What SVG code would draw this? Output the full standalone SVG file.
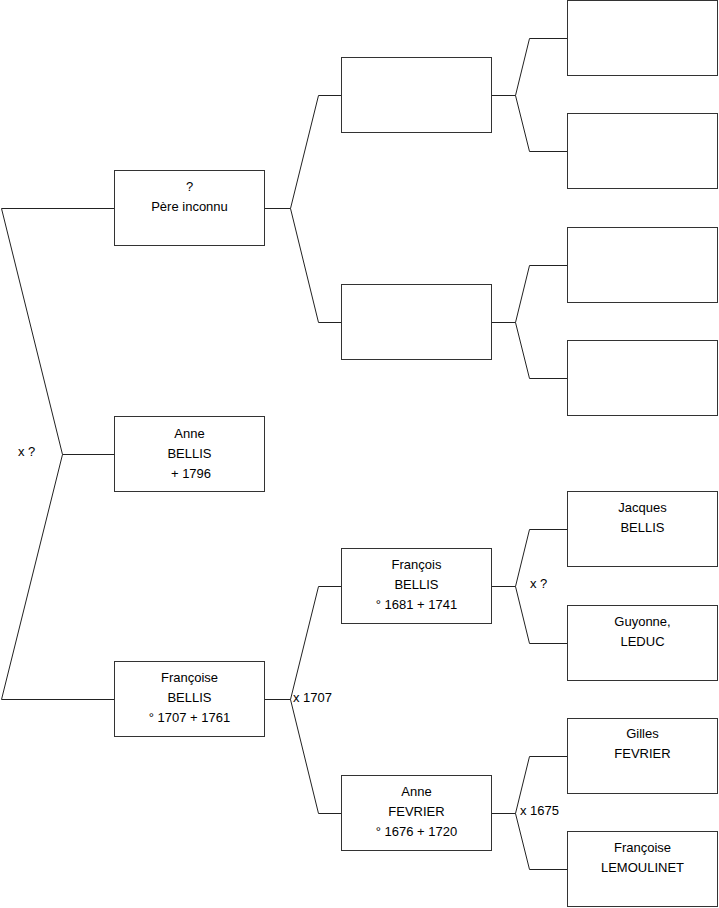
<svg xmlns="http://www.w3.org/2000/svg" width="719" height="908" viewBox="0 0 719 908">
<style>
.box{fill:#fff;stroke:#333;stroke-width:1}
.c{fill:none;stroke:#222;stroke-width:1}
text{font-family:"Liberation Sans",Arial,sans-serif;font-size:13px;fill:#000}
.m{text-anchor:middle}
</style>
<rect width="719" height="908" fill="#fff"/>
<g id="connectors">
<polyline class="c" points="114,208.5 1.5,208.5 62.5,454.5 1.5,699.5 114,699.5"/>
<line class="c" x1="62.5" y1="454.5" x2="114" y2="454.5"/>
<polyline class="c" points="341,95.5 318.5,95.5 290.5,208.5 318.5,322.5 341,322.5"/>
<line class="c" x1="265" y1="208.5" x2="290.5" y2="208.5"/>
<polyline class="c" points="341,586.5 318.5,586.5 290.5,699.5 318.5,813.5 341,813.5"/>
<line class="c" x1="265" y1="699.5" x2="290.5" y2="699.5"/>
<polyline class="c" points="567,38.5 529.5,38.5 515.5,95.5 529.5,151.5 567,151.5"/>
<line class="c" x1="492" y1="95.5" x2="515.5" y2="95.5"/>
<polyline class="c" points="567,265.5 529.5,265.5 515.5,322.5 529.5,378.5 567,378.5"/>
<line class="c" x1="492" y1="322.5" x2="515.5" y2="322.5"/>
<polyline class="c" points="567,529.5 529.5,529.5 515.5,586.5 529.5,643.5 567,643.5"/>
<line class="c" x1="492" y1="586.5" x2="515.5" y2="586.5"/>
<polyline class="c" points="567,756.5 529.5,756.5 515.5,813.5 529.5,869.5 567,869.5"/>
<line class="c" x1="492" y1="813.5" x2="515.5" y2="813.5"/>
<text x="18" y="456">x ?</text>
<text x="293" y="702">x 1707</text>
<text x="530" y="588">x ?</text>
<text x="520" y="815">x 1675</text>
</g>
<g id="pere"><rect class="box" x="114.5" y="170.5" width="150" height="75"/>
<text class="m" x="189.5" y="191">?</text><text class="m" x="189.5" y="211">Père inconnu</text></g>
<g id="anne-bellis"><rect class="box" x="114.5" y="416.5" width="150" height="75"/>
<text class="m" x="189.5" y="438">Anne</text><text class="m" x="189.5" y="458">BELLIS</text><text class="m" x="191" y="478">+ 1796</text></g>
<g id="francoise-bellis"><rect class="box" x="114.5" y="661.5" width="150" height="75"/>
<text class="m" x="189.5" y="682">Françoise</text><text class="m" x="189.5" y="702">BELLIS</text><text class="m" x="189.5" y="722">° 1707 + 1761</text></g>
<g id="g2a"><rect class="box" x="341.5" y="57.5" width="150" height="75"/></g>
<g id="g2b"><rect class="box" x="341.5" y="284.5" width="150" height="75"/></g>
<g id="francois-bellis"><rect class="box" x="341.5" y="548.5" width="150" height="75"/>
<text class="m" x="416.5" y="569">François</text><text class="m" x="416.5" y="589">BELLIS</text><text class="m" x="416.5" y="609">° 1681 + 1741</text></g>
<g id="anne-fevrier"><rect class="box" x="341.5" y="775.5" width="150" height="75"/>
<text class="m" x="416.5" y="796">Anne</text><text class="m" x="416.5" y="816">FEVRIER</text><text class="m" x="416.5" y="836">° 1676 + 1720</text></g>
<g id="g3a"><rect class="box" x="567.5" y="0.5" width="150" height="75"/></g>
<g id="g3b"><rect class="box" x="567.5" y="113.5" width="150" height="75"/></g>
<g id="g3c"><rect class="box" x="567.5" y="227.5" width="150" height="75"/></g>
<g id="g3d"><rect class="box" x="567.5" y="340.5" width="150" height="75"/></g>
<g id="jacques"><rect class="box" x="567.5" y="491.5" width="150" height="75"/>
<text class="m" x="642.5" y="512">Jacques</text><text class="m" x="642.5" y="532">BELLIS</text></g>
<g id="guyonne"><rect class="box" x="567.5" y="605.5" width="150" height="75"/>
<text class="m" x="642.5" y="626">Guyonne,</text><text class="m" x="642.5" y="646">LEDUC</text></g>
<g id="gilles"><rect class="box" x="567.5" y="718.5" width="150" height="75"/>
<text class="m" x="642.5" y="738">Gilles</text><text class="m" x="642.5" y="758">FEVRIER</text></g>
<g id="francoise-lemoulinet"><rect class="box" x="567.5" y="831.5" width="150" height="75"/>
<text class="m" x="642.5" y="852">Françoise</text><text class="m" x="642.5" y="872">LEMOULINET</text></g>
</svg>
